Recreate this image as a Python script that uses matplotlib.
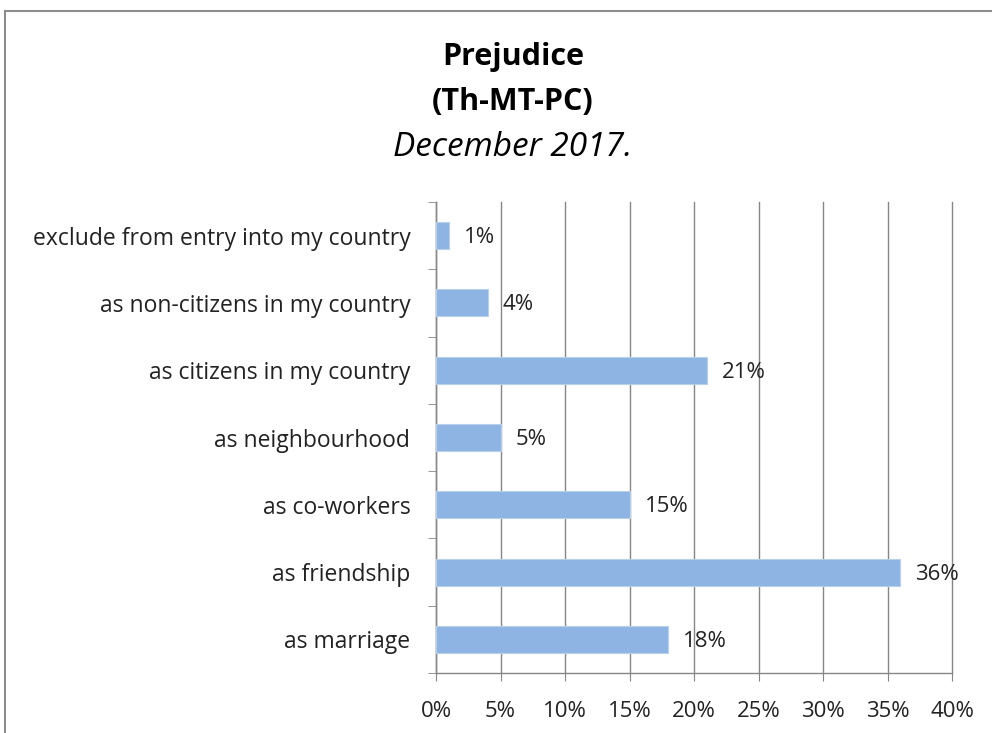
import matplotlib
matplotlib.use("Agg")
import matplotlib.pyplot as plt
from matplotlib.patches import Rectangle
from matplotlib.transforms import offset_copy

plt.rcParams["font.family"] = ["Open Sans", "DejaVu Sans"]

categories = [
    "exclude from entry into my country",
    "as non-citizens in my country",
    "as citizens in my country",
    "as neighbourhood",
    "as co-workers",
    "as friendship",
    "as marriage",
]
values = [1, 4, 21, 5, 15, 36, 18]
x_ticks = [0, 5, 10, 15, 20, 25, 30, 35, 40]
x_tick_labels = [f"{t}%" for t in x_ticks]

BAR_COLOR = "#8EB4E3"
GRID_COLOR = "#868686"
TEXT_COLOR = "#222222"
FS = 16

fig = plt.figure(figsize=(9.92, 7.33), dpi=100)
# outer chart border (only top and left visible in the reference)
fig.patches.append(Rectangle((5 / 992, -0.05), 1.1, (733 - 11) / 733 + 0.05,
                             transform=fig.transFigure, fill=False,
                             edgecolor="#8c8c8c", linewidth=1.5))

ax = fig.add_axes([436 / 992, 1 - 673 / 733, 516 / 992, 471 / 733])

n = len(categories)
ypos = list(range(n))[::-1]
ax.barh(ypos, values, height=0.4, color=BAR_COLOR, edgecolor="#B9D0EC",
        linewidth=0.8, zorder=3)

label_trans = offset_copy(ax.transData, fig=fig, x=15, y=-2, units="dots")
for y, v in zip(ypos, values):
    ax.text(v, y, f"{v}%", transform=label_trans, ha="left", va="center",
            fontsize=FS, color=TEXT_COLOR, zorder=4)

ax.set_xlim(0, 40)
ax.set_ylim(-0.5, n - 0.5)
ax.set_xticks(x_ticks)
ax.set_xticklabels(x_tick_labels, fontsize=FS, color=TEXT_COLOR)
ax.grid(axis="x", color=GRID_COLOR, linewidth=1, zorder=0)
for gl in ax.get_xgridlines():
    gl.set_clip_on(False)

# category labels at bar centres, ticks at category boundaries
ax.set_yticks(ypos)
ax.set_yticklabels(categories, fontsize=16.5, color=TEXT_COLOR)
ax.tick_params(axis="y", length=0, pad=18.5)
ax.set_yticks([i - 0.5 for i in range(n + 1)], minor=True)
ax.tick_params(axis="y", which="minor", length=6, color=GRID_COLOR,
               direction="out")
ax.tick_params(axis="x", length=6, color=GRID_COLOR, direction="out", pad=14)

for side in ["top", "right"]:
    ax.spines[side].set_visible(False)
for side in ["left", "bottom"]:
    ax.spines[side].set_color(GRID_COLOR)
    ax.spines[side].set_linewidth(1)

fig.text(513 / 992, 1 - 57 / 733, "Prejudice", ha="center", va="center",
         fontsize=22, fontweight="bold", color="black")
fig.text(513 / 992, 1 - 102 / 733, "(Th-MT-PC)", ha="center", va="center",
         fontsize=22, fontweight="bold", color="black")
fig.text(513 / 992, 1 - 147 / 733, "December 2017.", ha="center",
         va="center", fontsize=24, fontstyle="italic", color="black")

fig.savefig("out.png", dpi=100)
